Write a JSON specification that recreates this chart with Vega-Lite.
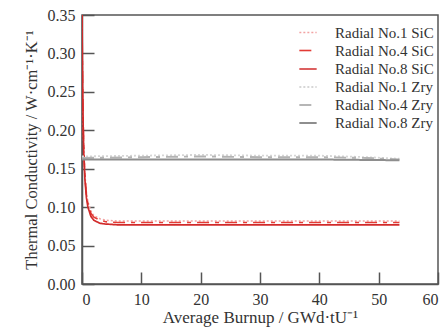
{
  "$schema": "https://vega.github.io/schema/vega-lite/v6.json",
  "autosize": {"type": "none"},
  "width": 356,
  "height": 269,
  "padding": {"left": 82, "top": 15, "right": 8, "bottom": 46},
  "background": "white",
  "config": {
    "font": "Liberation Serif",
    "view": {"stroke": "#555", "strokeWidth": 1.5},
    "axis": {
      "grid": false,
      "domainColor": "#555",
      "domainWidth": 1.5,
      "tickColor": "#555",
      "tickWidth": 1.5,
      "tickSize": -12,
      "labelFont": "Liberation Serif",
      "labelFontSize": 16,
      "labelColor": "#333",
      "titleFont": "Liberation Serif",
      "titleFontSize": 17,
      "titleFontWeight": "normal",
      "titleColor": "#333"
    },
    "legend": {
      "labelFont": "Liberation Serif",
      "labelFontSize": 15,
      "labelColor": "#333"
    }
  },
  "data": {
    "values": [
      {"s": "Radial No.1 SiC", "x": 0, "y": 0.35},
      {"s": "Radial No.1 SiC", "x": 0.05, "y": 0.302},
      {"s": "Radial No.1 SiC", "x": 0.1, "y": 0.264},
      {"s": "Radial No.1 SiC", "x": 0.2, "y": 0.211},
      {"s": "Radial No.1 SiC", "x": 0.3, "y": 0.177},
      {"s": "Radial No.1 SiC", "x": 0.5, "y": 0.142},
      {"s": "Radial No.1 SiC", "x": 0.75, "y": 0.119},
      {"s": "Radial No.1 SiC", "x": 1, "y": 0.107},
      {"s": "Radial No.1 SiC", "x": 1.5, "y": 0.095},
      {"s": "Radial No.1 SiC", "x": 2, "y": 0.089},
      {"s": "Radial No.1 SiC", "x": 3, "y": 0.085},
      {"s": "Radial No.1 SiC", "x": 4, "y": 0.083},
      {"s": "Radial No.1 SiC", "x": 6, "y": 0.082},
      {"s": "Radial No.1 SiC", "x": 20, "y": 0.082},
      {"s": "Radial No.1 SiC", "x": 40, "y": 0.082},
      {"s": "Radial No.1 SiC", "x": 53.5, "y": 0.082},
      {"s": "Radial No.4 SiC", "x": 0, "y": 0.35},
      {"s": "Radial No.4 SiC", "x": 0.05, "y": 0.301},
      {"s": "Radial No.4 SiC", "x": 0.1, "y": 0.262},
      {"s": "Radial No.4 SiC", "x": 0.2, "y": 0.208},
      {"s": "Radial No.4 SiC", "x": 0.3, "y": 0.174},
      {"s": "Radial No.4 SiC", "x": 0.5, "y": 0.139},
      {"s": "Radial No.4 SiC", "x": 0.75, "y": 0.116},
      {"s": "Radial No.4 SiC", "x": 1, "y": 0.104},
      {"s": "Radial No.4 SiC", "x": 1.5, "y": 0.092},
      {"s": "Radial No.4 SiC", "x": 2, "y": 0.087},
      {"s": "Radial No.4 SiC", "x": 3, "y": 0.083},
      {"s": "Radial No.4 SiC", "x": 4, "y": 0.081},
      {"s": "Radial No.4 SiC", "x": 6, "y": 0.080},
      {"s": "Radial No.4 SiC", "x": 20, "y": 0.080},
      {"s": "Radial No.4 SiC", "x": 40, "y": 0.080},
      {"s": "Radial No.4 SiC", "x": 53.5, "y": 0.080},
      {"s": "Radial No.8 SiC", "x": 0, "y": 0.35},
      {"s": "Radial No.8 SiC", "x": 0.05, "y": 0.300},
      {"s": "Radial No.8 SiC", "x": 0.1, "y": 0.260},
      {"s": "Radial No.8 SiC", "x": 0.2, "y": 0.205},
      {"s": "Radial No.8 SiC", "x": 0.3, "y": 0.170},
      {"s": "Radial No.8 SiC", "x": 0.5, "y": 0.135},
      {"s": "Radial No.8 SiC", "x": 0.75, "y": 0.112},
      {"s": "Radial No.8 SiC", "x": 1, "y": 0.100},
      {"s": "Radial No.8 SiC", "x": 1.5, "y": 0.088},
      {"s": "Radial No.8 SiC", "x": 2, "y": 0.083},
      {"s": "Radial No.8 SiC", "x": 3, "y": 0.079},
      {"s": "Radial No.8 SiC", "x": 4, "y": 0.078},
      {"s": "Radial No.8 SiC", "x": 6, "y": 0.077},
      {"s": "Radial No.8 SiC", "x": 20, "y": 0.077},
      {"s": "Radial No.8 SiC", "x": 40, "y": 0.077},
      {"s": "Radial No.8 SiC", "x": 53.5, "y": 0.077},
      {"s": "Radial No.1 Zry", "x": 0, "y": 0.166},
      {"s": "Radial No.1 Zry", "x": 10, "y": 0.167},
      {"s": "Radial No.1 Zry", "x": 20, "y": 0.168},
      {"s": "Radial No.1 Zry", "x": 30, "y": 0.167},
      {"s": "Radial No.1 Zry", "x": 40, "y": 0.167},
      {"s": "Radial No.1 Zry", "x": 48, "y": 0.165},
      {"s": "Radial No.1 Zry", "x": 53.5, "y": 0.163},
      {"s": "Radial No.4 Zry", "x": 0, "y": 0.164},
      {"s": "Radial No.4 Zry", "x": 10, "y": 0.165},
      {"s": "Radial No.4 Zry", "x": 20, "y": 0.166},
      {"s": "Radial No.4 Zry", "x": 30, "y": 0.165},
      {"s": "Radial No.4 Zry", "x": 40, "y": 0.165},
      {"s": "Radial No.4 Zry", "x": 48, "y": 0.164},
      {"s": "Radial No.4 Zry", "x": 53.5, "y": 0.162},
      {"s": "Radial No.8 Zry", "x": 0, "y": 0.162},
      {"s": "Radial No.8 Zry", "x": 20, "y": 0.162},
      {"s": "Radial No.8 Zry", "x": 40, "y": 0.162},
      {"s": "Radial No.8 Zry", "x": 53.5, "y": 0.161}
    ]
  },
  "mark": {"type": "line", "clip": true},
  "encoding": {
    "x": {
      "field": "x", "type": "quantitative",
      "scale": {"domain": [0, 60], "nice": false},
      "axis": {"values": [0, 10, 20, 30, 40, 50, 60], "title": "Average Burnup / GWd·tU⁻¹", "labelPadding": 19, "titlePadding": 2}
    },
    "y": {
      "field": "y", "type": "quantitative",
      "scale": {"domain": [0, 0.35], "nice": false},
      "axis": {"values": [0, 0.05, 0.1, 0.15, 0.2, 0.25, 0.3, 0.35], "format": ".2f", "title": "Thermal Conductivity / W·cm⁻¹·K⁻¹", "titleFontSize": 16.5, "labelPadding": 19, "titlePadding": 8}
    },
    "color": {
      "field": "s", "type": "nominal",
      "scale": {
        "domain": ["Radial No.1 SiC", "Radial No.4 SiC", "Radial No.8 SiC", "Radial No.1 Zry", "Radial No.4 Zry", "Radial No.8 Zry"],
        "range": ["#f2a3a3", "#e23b35", "#d12a2a", "#d6d6d6", "#b3b3b3", "#8e8e8e"]
      },
      "legend": {
        "title": null,
        "orient": "none",
        "legendX": 216,
        "legendY": 8,
        "symbolType": "stroke",
        "symbolSize": 300,
        "rowPadding": 0,
        "labelOffset": 17
      }
    },
    "strokeDash": {
      "field": "s", "type": "nominal",
      "scale": {
        "domain": ["Radial No.1 SiC", "Radial No.4 SiC", "Radial No.8 SiC", "Radial No.1 Zry", "Radial No.4 Zry", "Radial No.8 Zry"],
        "range": [[2, 2], [12, 6, 4, 6], [1, 0], [2, 2], [12, 6, 4, 6], [1, 0]]
      },
      "legend": null
    },
    "strokeWidth": {
      "field": "s", "type": "nominal",
      "scale": {
        "domain": ["Radial No.1 SiC", "Radial No.4 SiC", "Radial No.8 SiC", "Radial No.1 Zry", "Radial No.4 Zry", "Radial No.8 Zry"],
        "range": [1.5, 2, 2.5, 1.5, 2, 2]
      },
      "legend": null
    }
  }
}
